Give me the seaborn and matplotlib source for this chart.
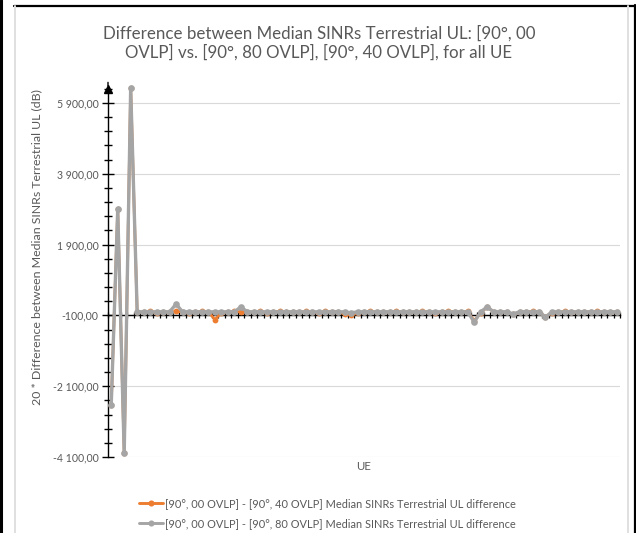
import numpy as np
import pandas as pd
import seaborn as sns
import matplotlib.pyplot as plt
from matplotlib.lines import Line2D
from matplotlib.ticker import FuncFormatter, MultipleLocator

sns.set_theme(style="white")
plt.rcParams["font.family"] = ["Lato", "DejaVu Sans"]

# UE index (79 users)
ue = list(range(79))

# 20 * ([90°, 00 OVLP] - [90°, 40 OVLP]) median SINR, per UE
diff_40 = [
    -2630, 2900, -4000, 6330, -10, 0, 10, -20, 0, -10,
    10, 0, -20, 0, 10, 0, -220, -20, 0, 10,
    0, -10, 0, 10, -20, 0, 10, 0, 0, -10,
    10, 0, -20, 10, 0, 0, -60, -90, -40, 0,
    10, 0, -10, 0, 10, 0, 0, -10, 10, 0,
    -20, 0, 10, 0, 0, 10, -250, -30, 130, 0,
    -10, 0, -70, -10, 0, 10, 0, -140, -20, 0,
    10, 0, -10, 0, 0, 10, 0, -10, 0,
]

# 20 * ([90°, 00 OVLP] - [90°, 80 OVLP]) median SINR, per UE
diff_80 = [
    -2630, 2900, -4000, 6330, 0, 0, 0, 0, 0, 0,
    220, 0, 0, 0, 0, 0, 0, 0, 0, 0,
    140, 0, 0, 0, 0, 0, 0, 0, 0, 0,
    0, 0, 0, 0, 0, 0, 0, -30, 0, 0,
    0, 0, 0, 0, 0, 0, 0, 0, 0, 0,
    0, 0, 0, 0, 0, 0, -290, 0, 140, 0,
    0, 0, -60, 0, 0, 0, 0, -150, 0, 0,
    0, 0, 0, 0, 0, 0, 0, 0, 0,
]

label_40 = "[90°, 00 OVLP] - [90°, 40 OVLP] Median SINRs Terrestrial UL difference"
label_80 = "[90°, 00 OVLP] - [90°, 80 OVLP] Median SINRs Terrestrial UL difference"
ORANGE, GREY = "#ED7D31", "#A5A5A5"

df40 = pd.DataFrame({"UE": ue, "value": diff_40})
df80 = pd.DataFrame({"UE": ue, "value": diff_80})

TXT = "#595959"
W, H = 636, 533
fig = plt.figure(figsize=(W / 100, H / 100), dpi=100)
ax = fig.add_axes([108 / W, 1 - 457 / H, (620 - 108) / W, (457 - 88.8) / H])

line_kw = dict(marker="o", markeredgewidth=0, clip_on=False, legend=False)
sns.lineplot(data=df40, x="UE", y="value", color=ORANGE, linewidth=2.0,
             markersize=4.2, ax=ax, **line_kw)
n_orange = len(ax.lines)
sns.lineplot(data=df80, x="UE", y="value", color=GREY, linewidth=2.4,
             markersize=4.8, ax=ax, **line_kw)
# keep the grey series drawn above the orange one
for i, ln in enumerate(ax.lines):
    ln.set_zorder(3 if i < n_orange else 4)

ax.set_xlim(-0.5, len(ue) - 0.5)
ax.set_ylim(-4100, 6300)

# y axis: major every 2000 from -4100, minor every 400
ax.set_yticks(np.arange(-4100, 6000, 2000))
ax.yaxis.set_minor_locator(MultipleLocator(400, offset=-100))
fmt = FuncFormatter(lambda v, p: f"{v:,.2f}".replace(",", " ").replace(".", ","))
ax.yaxis.set_major_formatter(fmt)
ax.tick_params(axis="y", which="major", direction="inout", length=8, width=1,
               color="black", labelsize=7.6, labelcolor=TXT, pad=3, left=True)
ax.tick_params(axis="y", which="minor", direction="inout", length=6, width=1,
               color="black", left=True)
ax.grid(axis="y", which="major", color="#D9D9D9", linewidth=0.8, zorder=0)
ax.grid(axis="x", visible=False)

# category axis crosses at -100
ax.spines["bottom"].set_position(("data", -100))
ax.spines["bottom"].set_color("black")
ax.spines["bottom"].set_linewidth(1)
ax.spines["bottom"].set_zorder(2)
ax.set_xticks(np.arange(-0.5, len(ue), 1.0))
ax.tick_params(axis="x", which="major", direction="inout", length=5, width=0.9,
               color="black", labelbottom=False, bottom=True)
ax.spines["left"].set_color("black")
ax.spines["left"].set_linewidth(1)
for s in ("top", "right"):
    ax.spines[s].set_visible(False)
ax.set_xlabel("")
ax.set_ylabel("")

# arrow head on the value axis
ax.plot([-0.5], [6300], marker="^", color="black", markersize=6,
        clip_on=False, zorder=5)
ax.annotate("", xy=(0, 1.025), xycoords="axes fraction", xytext=(0, 1.0),
            arrowprops=dict(arrowstyle="-", color="black", lw=1))

# titles and labels
fig.text(319 / W, 1 - 33 / H, "Difference between Median SINRs Terrestrial UL: [90°, 00",
         ha="center", va="center", fontsize=12.2, color=TXT)
fig.text(319 / W, 1 - 52.5 / H, "OVLP] vs. [90°, 80 OVLP], [90°, 40 OVLP], for all UE",
         ha="center", va="center", fontsize=12.2, color=TXT)
fig.text(37 / W, 1 - 247 / H, "20 * Difference between Median SINRs Terrestrial UL (dB)",
         ha="center", va="center", rotation=90, fontsize=8.9, color=TXT)
fig.text(364 / W, 1 - 466 / H, "UE", ha="center", va="center", fontsize=8.2, color=TXT)

# legend
handles = [
    Line2D([], [], color=ORANGE, lw=2.1, marker="o", markersize=4.4, markeredgewidth=0),
    Line2D([], [], color=GREY, lw=2.1, marker="o", markersize=4.4, markeredgewidth=0),
]
fig.legend(handles, [label_40, label_80], loc="center", bbox_to_anchor=(327 / W, 1 - 513.5 / H),
           frameon=False, fontsize=7.95, labelcolor=TXT, handlelength=2.2,
           handletextpad=0.15, labelspacing=0.8, borderpad=0)

# chart frame
fig.add_artist(Line2D([1 / W, 1 / W], [0, 1], transform=fig.transFigure, color="black", lw=2.2))
fig.add_artist(Line2D([14 / W, 1], [1 - 5.5 / H, 1 - 5.5 / H], transform=fig.transFigure, color="black", lw=1.6))
fig.add_artist(Line2D([634.5 / W, 634.5 / W], [0, 1 - 5 / H], transform=fig.transFigure, color="black", lw=1.6))
fig.add_artist(Line2D([15 / W, 15 / W], [0, 1 - 6 / H], transform=fig.transFigure, color="#E0E0E0", lw=1.4))
fig.add_artist(Line2D([628 / W, 628 / W], [0, 1 - 6 / H], transform=fig.transFigure, color="#E0E0E0", lw=1.4))

fig.savefig("out.png", dpi=100)
